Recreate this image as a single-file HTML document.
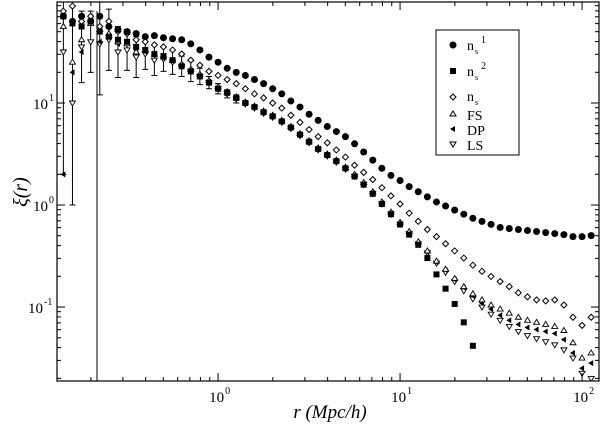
<!DOCTYPE html>
<html><head><meta charset="utf-8"><style>
body{margin:0;background:#fff;}
svg text{font-family:"Liberation Serif",serif;}
</style></head><body>
<svg id="chart" width="601" height="430" xmlns="http://www.w3.org/2000/svg">
<rect x="0" y="0" width="601" height="430" fill="#fff"/>
<g id="marks"></g>
<g id="axes"></g>
<text transform="translate(27,192) rotate(-90)" text-anchor="middle" font-size="20" font-style="italic">ξ(r)</text>
<text x="330" y="418" text-anchor="middle" font-size="19" font-style="italic">r (Mpc/h)</text>
<g>
<rect x="436" y="30" width="83" height="125" fill="#fff" stroke="#000" stroke-width="1"/>
<circle cx="453" cy="45" r="3.5" fill="#000"/>
<text x="467" y="50" font-size="14">n</text><text x="475" y="54" font-size="8">s</text><text x="481" y="43" font-size="10">1</text>
<rect x="450" y="68" width="6" height="6" fill="#000"/>
<text x="467" y="76" font-size="14">n</text><text x="475" y="80" font-size="8">s</text><text x="481" y="69" font-size="10">2</text>
<path d="M453,94 l3,3 l-3,3 l-3,-3z" fill="none" stroke="#000"/>
<text x="467" y="101" font-size="14">n</text><text x="475" y="105" font-size="8">s</text>
<path d="M453,111 l3,5 l-6,0z" fill="none" stroke="#000"/>
<text x="467" y="120" font-size="14">FS</text>
<path d="M450,129 l5,-3 l0,6z" fill="#000"/>
<text x="467" y="135" font-size="14">DP</text>
<path d="M450,142 l6,0 l-3,5z" fill="none" stroke="#000"/>
<text x="467" y="150" font-size="14">LS</text>
</g>
</svg>
<script>
// log10(r) grid
const logR = [-0.85,-0.80,-0.75,-0.70,-0.65,-0.60,-0.55,-0.50,-0.45,-0.40,-0.35,-0.30,-0.25,-0.20,-0.15,-0.10,-0.05,0.00,0.05,0.10,0.15,0.20,0.25,0.30,0.35,0.40,0.45,0.50,0.55,0.60,0.65,0.70,0.75,0.80,0.85,0.90,0.95,1.00,1.05,1.10,1.15,1.20,1.25,1.30,1.35,1.40,1.45,1.50,1.55,1.60,1.65,1.70,1.75,1.80,1.85,1.90,1.95,2.00,2.05];
// log10(xi) per series
const ns1 = [1.85,1.8,1.85,1.8,1.85,1.75,1.72,1.7,1.68,1.65,1.66,1.64,1.63,1.62,1.58,1.52,1.45,1.40,1.34,1.30,1.27,1.23,1.19,1.14,1.09,1.02,0.96,0.89,0.83,0.77,0.72,0.67,0.60,0.52,0.44,0.36,0.29,0.24,0.18,0.13,0.08,0.03,-0.01,-0.05,-0.09,-0.13,-0.16,-0.19,-0.22,-0.23,-0.24,-0.25,-0.26,-0.27,-0.28,-0.29,-0.31,-0.31,-0.30];
const ns2 = [1.85,1.78,1.75,1.8,1.7,1.65,1.62,1.6,1.55,1.52,1.48,1.46,1.42,1.36,1.31,1.26,1.2,1.14,1.1,1.05,1.0,0.96,0.91,0.87,0.82,0.76,0.69,0.62,0.55,0.49,0.43,0.36,0.28,0.2,0.11,0.01,-0.09,-0.19,-0.29,-0.39,-0.52,-0.68,-0.82,-0.97,-1.15,-1.38];
const ns = [1.9,1.95,1.8,1.85,1.75,1.8,1.7,1.68,1.62,1.6,1.57,1.55,1.52,1.48,1.42,1.37,1.31,1.27,1.23,1.19,1.14,1.09,1.05,1.0,0.95,0.88,0.81,0.74,0.67,0.61,0.54,0.47,0.39,0.32,0.25,0.17,0.09,0.01,-0.08,-0.16,-0.24,-0.31,-0.38,-0.45,-0.52,-0.59,-0.65,-0.7,-0.75,-0.8,-0.86,-0.9,-0.93,-0.94,-0.93,-0.98,-1.1,-1.18,-1.1];
const fs = [1.75,1.4,1.62,1.78,1.72,1.68,1.6,1.58,1.5,1.52,1.48,1.45,1.42,1.38,1.33,1.28,1.22,1.16,1.11,1.06,1.01,0.97,0.92,0.88,0.83,0.77,0.7,0.63,0.56,0.5,0.44,0.37,0.3,0.22,0.13,0.03,-0.07,-0.17,-0.26,-0.36,-0.45,-0.55,-0.63,-0.72,-0.8,-0.87,-0.93,-0.98,-1.02,-1.06,-1.1,-1.13,-1.15,-1.17,-1.19,-1.23,-1.35,-1.5,-1.45];
const dp = [0.3,1.3,1.5,1.85,1.6,1.65,1.58,1.6,1.52,1.5,1.47,1.44,1.41,1.37,1.32,1.27,1.21,1.15,1.1,1.05,1.0,0.96,0.91,0.87,0.82,0.76,0.69,0.62,0.55,0.49,0.43,0.36,0.29,0.21,0.12,0.02,-0.08,-0.18,-0.27,-0.37,-0.46,-0.56,-0.64,-0.73,-0.81,-0.89,-0.96,-1.02,-1.08,-1.13,-1.17,-1.2,-1.22,-1.24,-1.26,-1.32,-1.45,-1.6,-1.55];
const ls = [1.5,1.0,1.55,1.6,1.58,1.62,1.5,1.52,1.45,1.48,1.42,1.43,1.4,1.36,1.31,1.26,1.2,1.14,1.09,1.04,0.99,0.95,0.9,0.86,0.81,0.75,0.68,0.61,0.54,0.48,0.42,0.35,0.28,0.2,0.11,0.01,-0.09,-0.19,-0.28,-0.38,-0.47,-0.57,-0.66,-0.75,-0.84,-0.92,-1.0,-1.07,-1.13,-1.19,-1.24,-1.28,-1.31,-1.34,-1.37,-1.42,-1.5,-1.65,-1.7];
// error bar half-heights (log10 units) for LS at small r
const lsErr = [1.2,1.0,0.35,0.3,0.5,0.3,0.25,0.2,0.2,0.15,0.15,0.12,0.12,0.1,0.1,0.08,0.06,0.05,0.04,0.04];
const xTickLabels = ["0","1","2"];
const yTickLabels = ["-1","0","1"];

const X0=57,X1=599,Y0=2,Y1=381;
const LX0=-0.885, LX1=2.093, LY0=-1.725, LY1=1.99;
function xs(l){return X0+(l-LX0)/(LX1-LX0)*(X1-X0);}
function ys(l){return Y1-(l-LY0)/(LY1-LY0)*(Y1-Y0);}
const NS="http://www.w3.org/2000/svg";
const marks=document.getElementById('marks'), axes=document.getElementById('axes');
function mk(tag,attrs,parent){const e=document.createElementNS(NS,tag);for(const k in attrs)e.setAttribute(k,attrs[k]);parent.appendChild(e);return e;}

const defs=mk('defs',{},marks);const cp=mk('clipPath',{id:'pc'},defs);mk('rect',{x:X0,y:Y0,width:X1-X0,height:Y1-Y0},cp);
const g=mk('g',{'clip-path':'url(#pc)'},marks);

lsErr.forEach((e,i)=>{const x=xs(logR[i]);const yt=ys(ls[i]+e),yb=ys(ls[i]-e);
 const b=mk('path',{d:`M${x},${yt}V${yb}M${x-3},${yt}h6M${x-3},${yb}h6`,stroke:'#000','stroke-width':1,fill:'none'},g);
 
 });
const vl=mk('line',{x1:97,x2:97,y1:ys(1.9),y2:Y1,stroke:'#000','stroke-width':1},g);



function series(arr,name,draw){arr.forEach((v,i)=>{if(v==null)return;const x=xs(logR[i]),y=ys(v);const e=draw(x,y);
 
 });}
series(ls,'ls',(x,y)=>mk('path',{d:`M${x-3},${y-2}h6l-3,5z`,fill:'#fff',stroke:'#000','stroke-width':0.9},g));
series(dp,'dp',(x,y)=>mk('path',{d:`M${x-3},${y}l5,-3v6z`,fill:'#000'},g));
series(fs,'fs',(x,y)=>mk('path',{d:`M${x},${y-3}l3,5h-6z`,fill:'#fff',stroke:'#000','stroke-width':0.9},g));
series(ns,'ns',(x,y)=>mk('path',{d:`M${x},${y-3}l3,3l-3,3l-3,-3z`,fill:'#fff',stroke:'#000','stroke-width':1},g));
series(ns2,'ns2',(x,y)=>mk('rect',{x:x-3,y:y-3,width:6,height:6,fill:'#000'},g));
series(ns1,'ns1',(x,y)=>mk('circle',{cx:x,cy:y,r:3.5,fill:'#000'},g));

const fr=mk('rect',{x:X0,y:Y0,width:X1-X0,height:Y1-Y0,fill:'none',stroke:'#000','stroke-width':1.2},axes);


for(let d=-1;d<=2;d++){for(let k=1;k<10;k++){const l=d+Math.log10(k);if(l<LX0||l>LX1)continue;const x=xs(l);const len=k===1?8:4;
 mk('line',{x1:x,x2:x,y1:Y1,y2:Y1-len,stroke:'#000'},axes);mk('line',{x1:x,x2:x,y1:Y0,y2:Y0+len,stroke:'#000'},axes);}}
xTickLabels.forEach(s=>{const x=xs(+s);const t=mk('text',{x:x-9,y:402,'font-size':15},axes);t.textContent='10';
 
 
 const sp=mk('text',{x:x+7,y:394,'font-size':10},axes);sp.textContent=s;});
for(let d=-2;d<=1;d++){for(let k=1;k<10;k++){const l=d+Math.log10(k);if(l<LY0||l>LY1)continue;const y=ys(l);const len=k===1?8:4;
 mk('line',{x1:X0,x2:X0+len,y1:y,y2:y,stroke:'#000'},axes);mk('line',{x1:X1,x2:X1-len,y1:y,y2:y,stroke:'#000'},axes);}}
yTickLabels.forEach(s=>{const y=ys(+s);const t=mk('text',{x:s.length>1?28:33,y:y+6,'font-size':15},axes);t.textContent='10';
 
 
 const sp=mk('text',{x:s.length>1?44:49,y:y-2,'font-size':10},axes);sp.textContent=s;});
</script>
</body></html>
